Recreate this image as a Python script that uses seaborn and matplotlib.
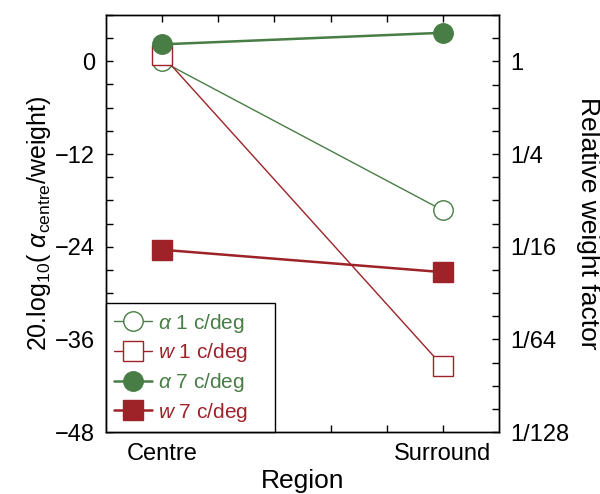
import matplotlib
matplotlib.use("Agg")
import matplotlib.pyplot as plt
import seaborn as sns
import pandas as pd
from matplotlib.ticker import MultipleLocator, FixedLocator

sns.set_style("ticks")
plt.rcParams['font.family'] = ['Liberation Sans', 'DejaVu Sans']
plt.rcParams['mathtext.fontset'] = 'custom'
plt.rcParams['mathtext.rm'] = 'Liberation Sans'
plt.rcParams['mathtext.it'] = 'Liberation Sans:italic'
plt.rcParams['mathtext.cal'] = 'Liberation Sans:italic'
plt.rcParams['text.color'] = 'black'
plt.rcParams['axes.labelcolor'] = 'black'
plt.rcParams['xtick.color'] = 'black'
plt.rcParams['ytick.color'] = 'black'
plt.rcParams['axes.edgecolor'] = 'black'

regions = ["Centre", "Surround"]
alpha_1 = [0.0, -19.3]
w_1 = [0.8, -39.5]
alpha_7 = [2.2, 3.7]
w_7 = [-24.4, -27.3]
series_labels = [r"$\alpha$ 1 c/deg", r"$w$ 1 c/deg", r"$\alpha$ 7 c/deg", r"$w$ 7 c/deg"]
right_ticklabels = ["1", "1/4", "1/16", "1/64", "1/128"]
left_ticks = [0, -12, -24, -36, -48]
left_ticklabels = ["0", "\u221212", "\u221224", "\u221236", "\u221248"]

green = "#487d45"
red = "#9d2329"

fig = plt.figure(figsize=(6.0, 4.94), dpi=100)
ax = fig.add_axes([106/600, 1-432/494, (499-106)/600, (432-15)/494])

styles = [
    dict(color=green, marker="o", mfc="white", mec=green, ms=14, lw=1.0, mew=1.0),
    dict(color=red, marker="s", mfc="white", mec=red, ms=14, lw=1.0, mew=1.0),
    dict(color=green, marker="o", mfc=green, mec=green, ms=14, lw=1.8, mew=1.0),
    dict(color=red, marker="s", mfc=red, mec=red, ms=14, lw=1.8, mew=1.0),
]
vals = [alpha_1, w_1, alpha_7, w_7]
for i, (v, lab, st) in enumerate(zip(vals, series_labels, styles)):
    df = pd.DataFrame({"x": [0, 1], "y": v})
    sns.lineplot(data=df, x="x", y="y", ax=ax, label=lab + "    ", color=st["color"],
                 marker=st["marker"], markerfacecolor=st["mfc"], markeredgecolor=st["mec"],
                 markersize=st["ms"], linewidth=st["lw"], markeredgewidth=st["mew"],
                 zorder=3 + i)

ax.set_xlim(-0.2, 1.2)
ax.set_ylim(-48, 6)
ax.set_xticks([0, 1])
ax.set_xticklabels(regions, fontsize=17)
ax.xaxis.set_minor_locator(FixedLocator([0.2, 0.4, 0.6, 0.8]))
ax.set_yticks(left_ticks)
ax.set_yticklabels(left_ticklabels, fontsize=17)
ax.yaxis.set_minor_locator(MultipleLocator(3))
ax.tick_params(which="both", direction="in", top=True, length=5, width=1.0, pad=8)
ax.set_xlabel("Region", fontsize=19, labelpad=3)
ax.set_ylabel(r"20.log$_{10}$( $\alpha_{\rm centre}$/weight)", fontsize=18, labelpad=1)
for s in ax.spines.values():
    s.set_linewidth(1.0)

ax2 = ax.twinx()
ax2.set_ylim(-48, 6)
ax2.set_yticks(left_ticks)
ax2.set_yticklabels(right_ticklabels, fontsize=17)
ax2.yaxis.set_minor_locator(MultipleLocator(3))
ax2.tick_params(which="both", direction="in", length=5, width=1.0, pad=8)
ax2.set_ylabel("Relative weight factor", fontsize=19, rotation=270, labelpad=22)
for s in ax2.spines.values():
    s.set_linewidth(1.0)

leg = ax.legend(loc="lower left", fontsize=15, frameon=True, fancybox=False,
                edgecolor="black", framealpha=1, borderaxespad=0, handlelength=1.8,
                handletextpad=0.3, labelspacing=0.32, borderpad=0.4)
leg.get_frame().set_linewidth(1.0)
for txt, st in zip(leg.get_texts(), styles):
    txt.set_color(st["color"])
leg.set_zorder(10)

fig.savefig("out.png", dpi=100)
